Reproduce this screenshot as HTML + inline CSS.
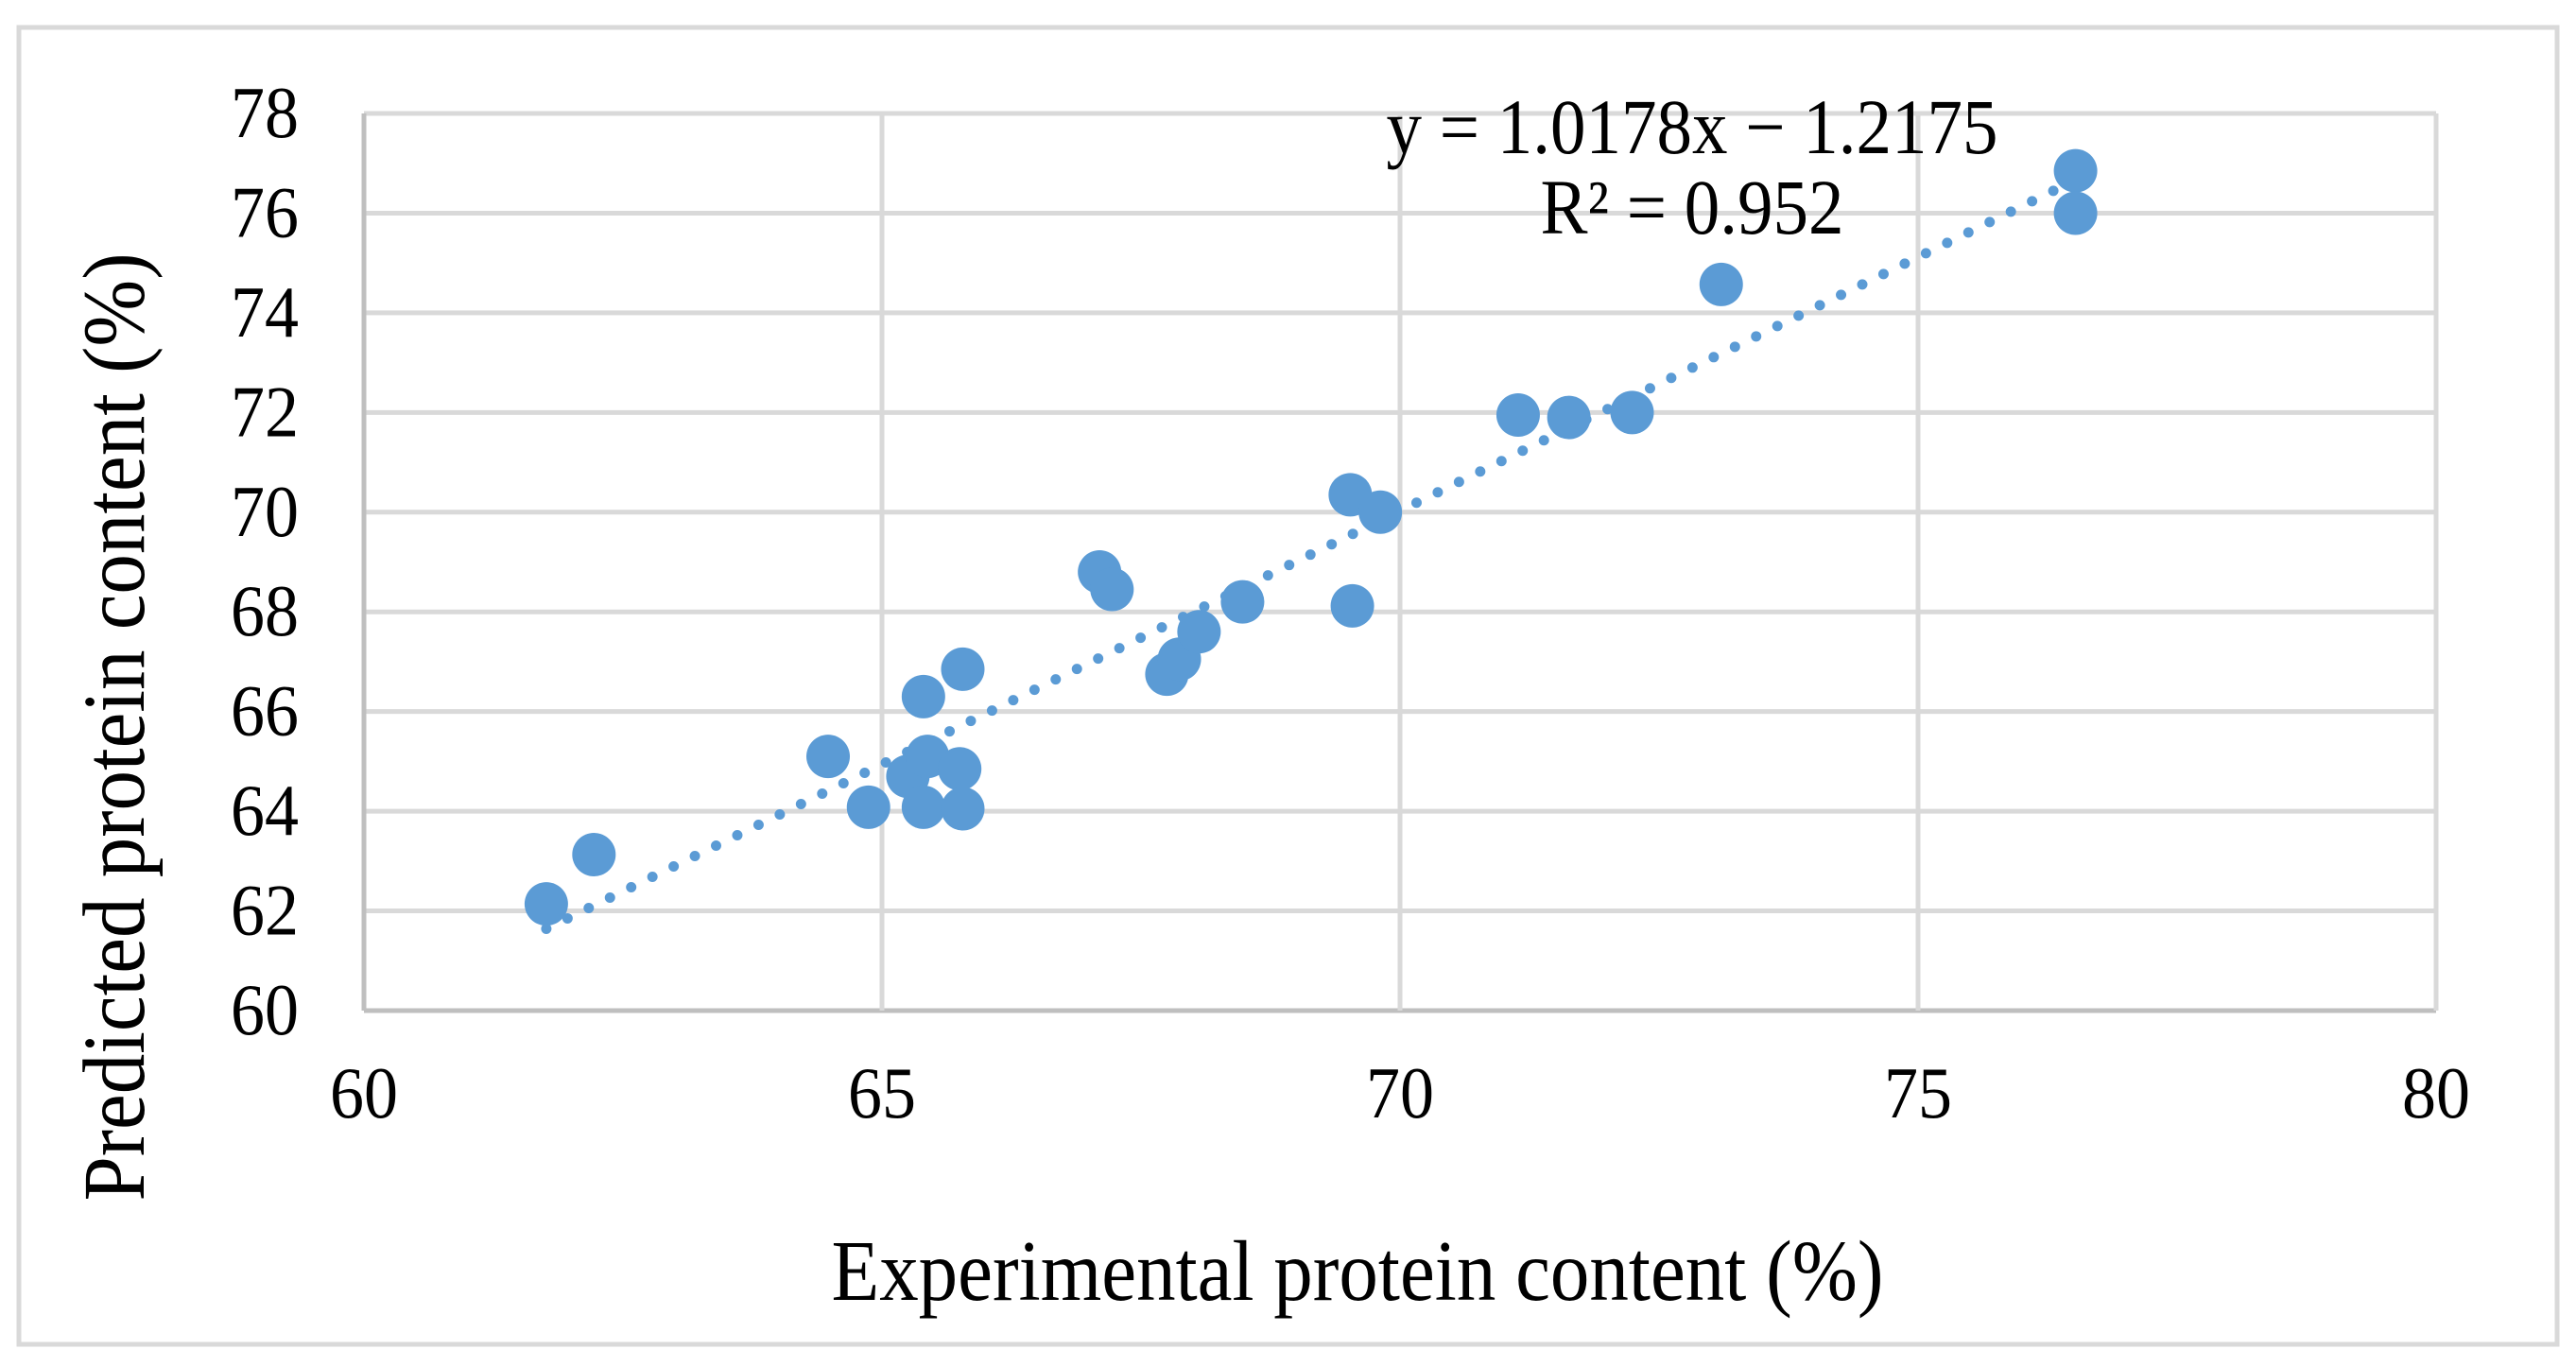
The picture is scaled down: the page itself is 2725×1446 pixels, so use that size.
<!DOCTYPE html>
<html><head><meta charset="utf-8">
<style>html,body{margin:0;padding:0;background:#fff;}svg{display:block;}</style>
</head><body>
<svg id="chart" width="2725" height="1446" viewBox="0 0 2725 1446" xmlns="http://www.w3.org/2000/svg" font-family="'Liberation Serif', serif">
<rect x="20" y="29" width="2685" height="1393" fill="#fff" stroke="#d9d9d9" stroke-width="5"/>
<g id="grid"></g><g id="ticks"></g><g id="trend"></g><g id="points"></g>
<text transform="translate(1790,162) scale(1,1.1)" font-size="75" text-anchor="middle">y = 1.0178x − 1.2175</text>
<text transform="translate(1790,247) scale(1,1.1)" font-size="75" text-anchor="middle">R² = 0.952</text>
<text transform="translate(1436,1375) scale(1,1.1)" font-size="83" text-anchor="middle">Experimental protein content (%)</text>
<text transform="translate(152,769) rotate(-90) scale(1,1.1)" font-size="85" text-anchor="middle">Predicted protein content  (%)</text>
</svg>
<script>
const xs = [61.76,62.22,64.48,64.87,65.25,65.4,65.44,65.4,65.75,65.78,65.78,67.1,67.22,67.75,67.87,68.06,68.48,69.52,69.81,69.54,71.14,71.63,72.24,73.1,76.52,76.52];
const ys = [62.14,63.13,65.1,64.08,64.7,66.3,65.1,64.08,64.85,64.05,66.85,68.8,68.45,66.75,67.05,67.6,68.2,70.35,70.0,68.12,71.95,71.9,72.0,74.57,76.85,76.0];
const xTicks = [60,65,70,75,80];
const yTicks = [60,62,64,66,68,70,72,74,76,78];
const slope = 1.0178;
const intercept = -1.2175;

const NS='http://www.w3.org/2000/svg';
const X0=385,X1=2577,Y0=1069,Y1=120;
const sx=v=>X0+(v-60)/(80-60)*(X1-X0);
const sy=v=>Y0-(v-60)/(78-60)*(Y0-Y1);
function mk(tag,attrs,parent){const e=document.createElementNS(NS,tag);for(const k in attrs)e.setAttribute(k,attrs[k]);document.getElementById(parent).appendChild(e);return e;}
yTicks.forEach(t=>{
  const l=mk('line',{x1:X0,x2:X1,y1:sy(t),y2:sy(t),stroke:t===60?'#bfbfbf':'#d9d9d9','stroke-width':5},'grid');
  
  
  const tx=mk('text',{transform:'translate(316,'+(sy(t)+25)+') scale(1,1.08)','font-size':72,'text-anchor':'end'},'ticks');
  tx.textContent=t;
  
  
});
xTicks.forEach(t=>{
  const l=mk('line',{x1:sx(t),x2:sx(t),y1:Y1,y2:Y0,stroke:t===60?'#bfbfbf':'#d9d9d9','stroke-width':5},'grid');
  
  
  const tx=mk('text',{transform:'translate('+sx(t)+',1182) scale(1,1.08)','font-size':72,'text-anchor':'middle'},'ticks');
  tx.textContent=t;
  
  
});
const xmin=Math.min(...xs),xmax=Math.max(...xs);
const tl=mk('line',{x1:sx(xmin),y1:sy(slope*xmin+intercept),x2:sx(xmax),y2:sy(slope*xmax+intercept),stroke:'#5b9bd5','stroke-width':11,'stroke-linecap':'round','stroke-dasharray':'0 25'},'trend');


xs.forEach((x,i)=>{
  const c=mk('circle',{cx:sx(x),cy:sy(ys[i]),r:23,fill:'#5b9bd5'},'points');
  
  
});
</script>
</body></html>
